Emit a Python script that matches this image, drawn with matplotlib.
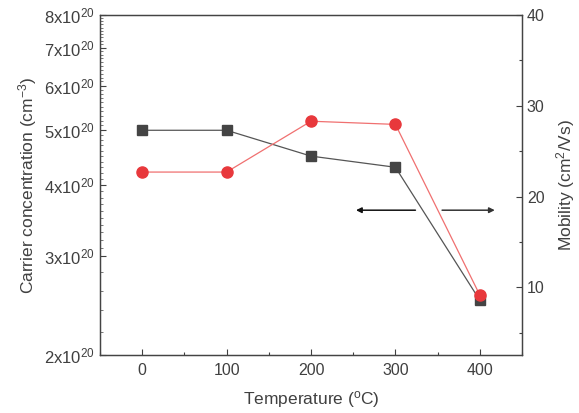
import numpy as np
import matplotlib
matplotlib.use('Agg')
import matplotlib.pyplot as plt
from matplotlib.ticker import FixedLocator, NullFormatter

plt.rcParams['font.family'] = ['Liberation Sans', 'DejaVu Sans']
plt.rcParams['mathtext.fontset'] = 'custom'
plt.rcParams['mathtext.rm'] = 'Liberation Sans'
plt.rcParams['mathtext.it'] = 'Liberation Sans'
plt.rcParams['text.color'] = '#404040'
plt.rcParams['axes.labelcolor'] = '#404040'
plt.rcParams['xtick.color'] = '#404040'
plt.rcParams['ytick.color'] = '#404040'

temperature = [0, 100, 200, 300, 400]
carrier = [5.0e20, 5.0e20, 4.5e20, 4.3e20, 2.5e20]
mobility = [22.7, 22.7, 28.3, 27.95, 9.15]

left_ticks = [2e20, 3e20, 4e20, 5e20, 6e20, 7e20, 8e20]
left_labels = [r'$%d\mathrm{x}10^{20}$' % k for k in range(2, 9)]

fig = plt.figure(figsize=(5.79, 4.13), dpi=100)
ax = fig.add_axes([0.1727, 0.1404, 0.7289, 0.8233])
ax2 = ax.twinx()

ax.plot(temperature, carrier, color='#555555', lw=0.9, marker='s', ms=7,
        mfc='#444444', mec='#444444', zorder=3)
ax.set_yscale('log')
ax.set_ylim(2e20, 8e20)
ax.set_xlim(-50, 450)
ax.yaxis.set_major_locator(FixedLocator(left_ticks))
ax.set_yticklabels(left_labels)
minor = list(np.arange(2.2, 3.0, 0.2)) + list(np.arange(3.1, 8.0, 0.1))
ax.yaxis.set_minor_locator(FixedLocator([m * 1e20 for m in minor]))
ax.yaxis.set_minor_formatter(NullFormatter())
ax.set_xticks(temperature)
ax.set_xticks([-50, 50, 150, 250, 350, 450], minor=True)

ax2.plot(temperature, mobility, color='#f07070', lw=0.9, marker='o', ms=8,
         mfc='#e8383c', mec='#e8383c', zorder=3)
ax2.set_ylim(2.55, 40)
ax2.set_yticks([10, 20, 30, 40])
ax2.set_yticks([5, 15, 25, 35], minor=True)

for a in (ax, ax2):
    a.tick_params(which='both', direction='in', labelsize=11.5, width=0.8)
    a.tick_params(which='major', length=4)
    a.tick_params(which='minor', length=2)
    for s in a.spines.values():
        s.set_color('#444444')
        s.set_linewidth(0.9)
ax.tick_params(axis='y', which='minor', length=2.5, width=0.5)
ax.tick_params(axis='y', labelsize=12)
ax.tick_params(top=False, which='both')
ax.tick_params(axis='x', pad=6)

ax.set_xlabel(r'Temperature ($^{\mathrm{o}}$C)', fontsize=12.5, labelpad=8)
ax.set_ylabel(r'Carrier concentration (cm$^{\mathrm{-3}}$)', fontsize=12.5, labelpad=4)
ax2.set_ylabel(r'Mobility (cm$^{\mathrm{2}}$/Vs)', fontsize=12.5, labelpad=7)

ax2.annotate('', xy=(250, 18.5), xytext=(327, 18.5),
             arrowprops=dict(arrowstyle='-|>', color='#111111', lw=1.1,
                             mutation_scale=8))
ax2.annotate('', xy=(421, 18.5), xytext=(352, 18.5),
             arrowprops=dict(arrowstyle='-|>', color='#333333', lw=1.1,
                             mutation_scale=8))

fig.savefig('out.png', dpi=100)
